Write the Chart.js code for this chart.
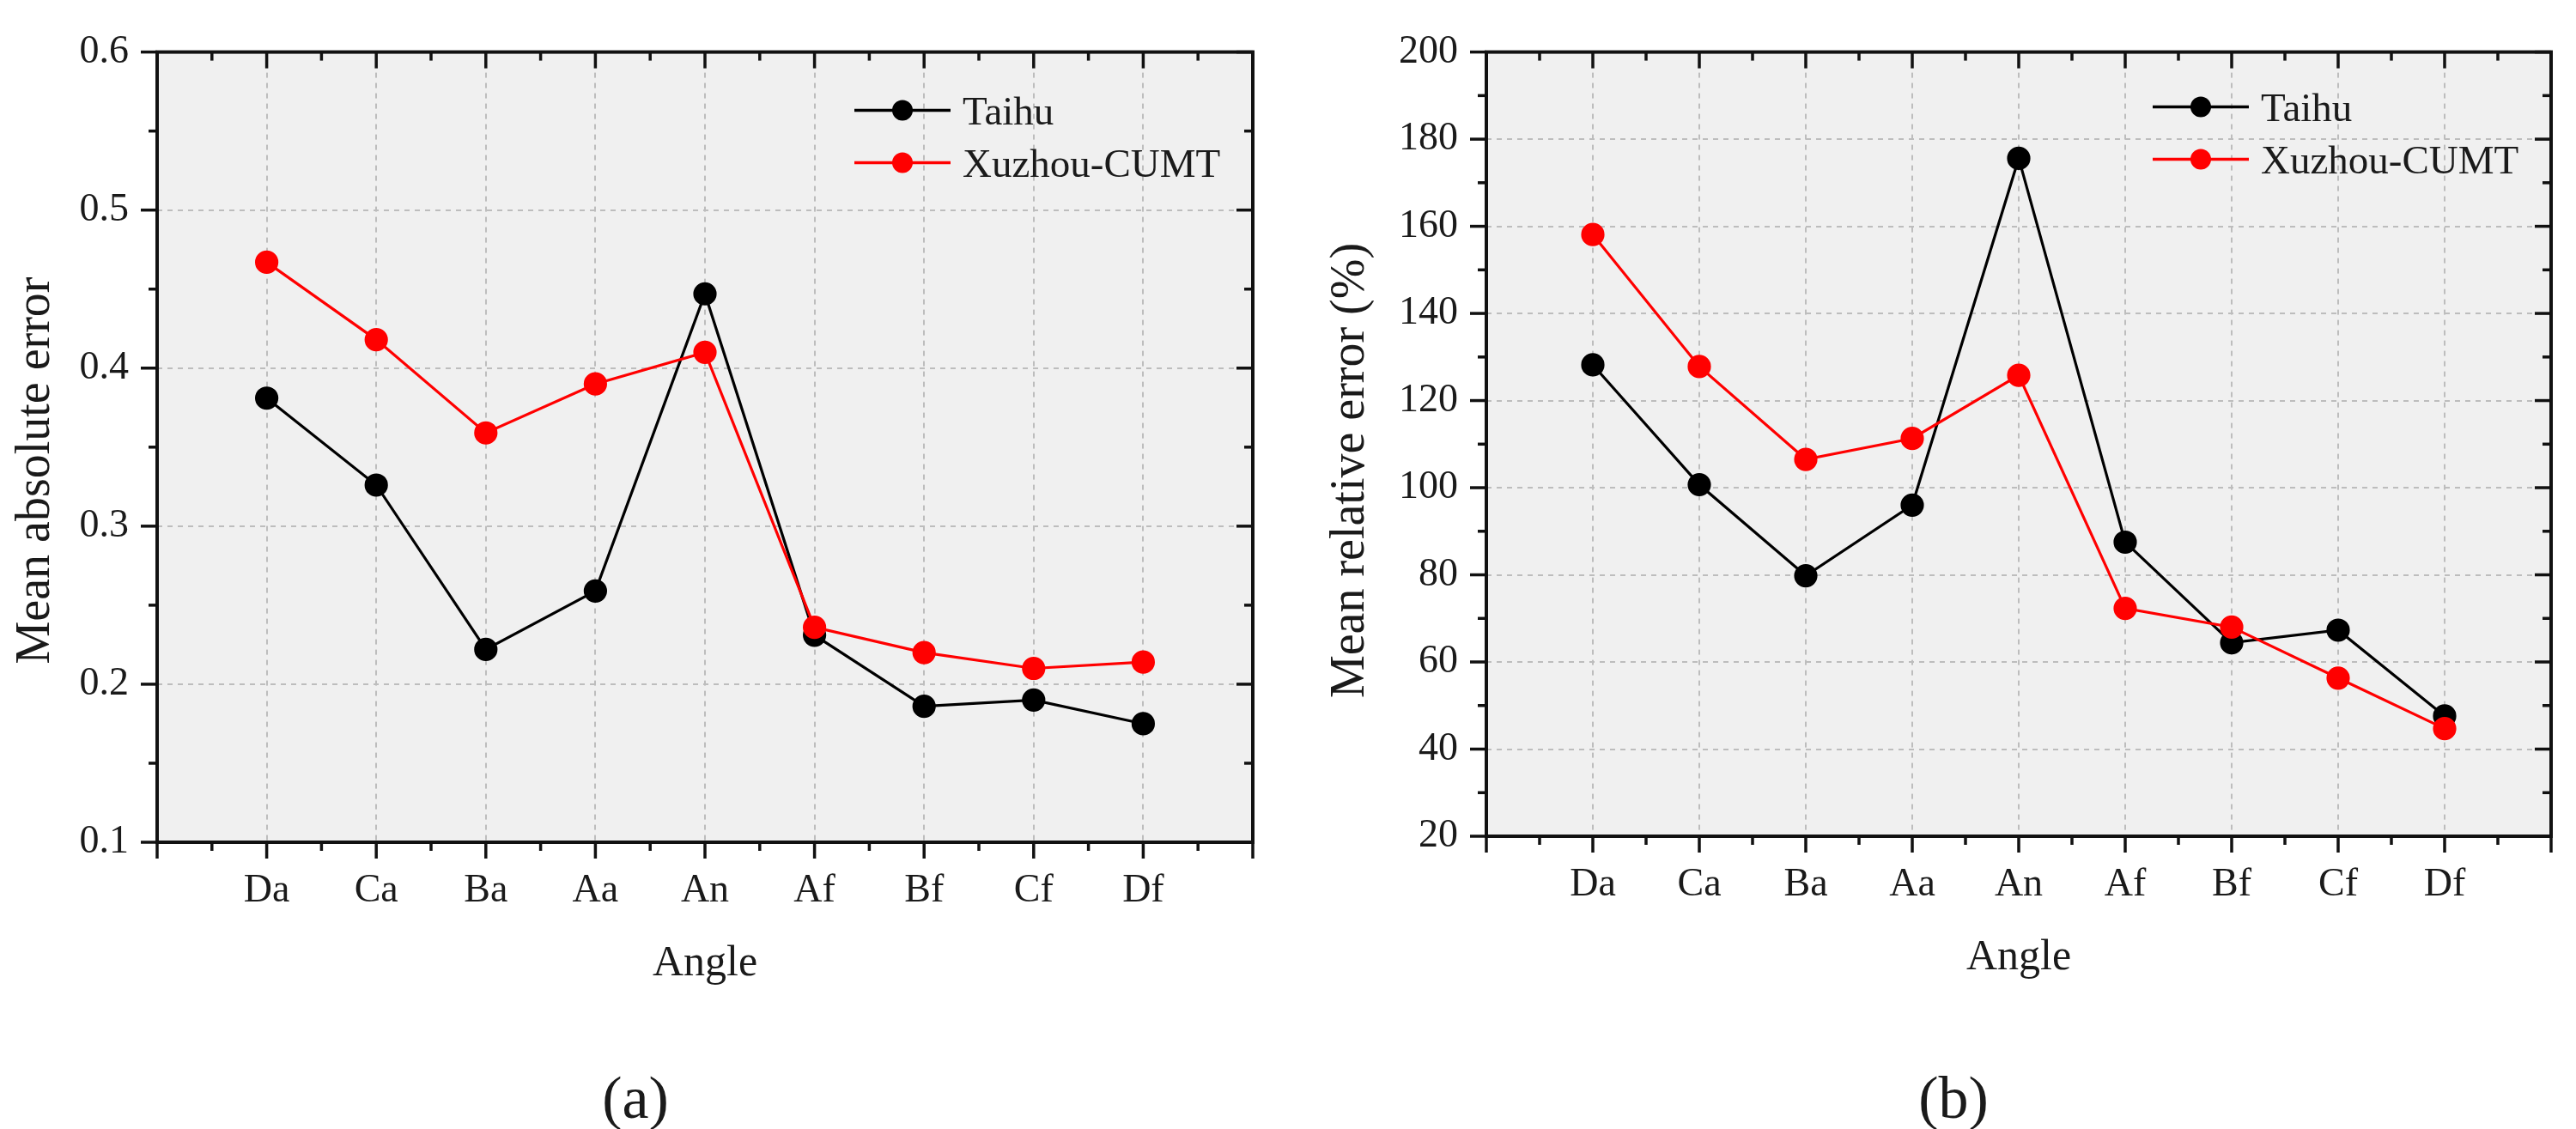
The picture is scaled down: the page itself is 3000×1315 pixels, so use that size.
<!DOCTYPE html>
<html>
<head>
<meta charset="utf-8">
<title>Mean absolute / relative error by angle</title>
<script src="https://cdn.jsdelivr.net/npm/chart.js@4.4.1/dist/chart.umd.min.js"></script>
<style>
  html, body { margin: 0; padding: 0; background: #fff; }
  .page { position: relative; width: 3000px; height: 1315px; overflow: hidden; }
  .panel { position: absolute; top: 0; width: 1500px; height: 1315px; }
  #panelA { left: 0; }
  #panelB { left: 1500px; }
</style>
</head>
<body>
<div class="page">
  <div class="panel" id="panelA"><canvas id="maeChart" width="1500" height="1315"></canvas></div>
  <div class="panel" id="panelB"><canvas id="mreChart" width="1500" height="1315"></canvas></div>
</div>
<script>
// Data
const angleLabels = ['Da', 'Ca', 'Ba', 'Aa', 'An', 'Af', 'Bf', 'Cf', 'Df'];
const seriesNames = ['Taihu', 'Xuzhou-CUMT'];

// (a) Mean absolute error
const maeTaihu = [0.381, 0.326, 0.222, 0.259, 0.447, 0.231, 0.186, 0.190, 0.175];
const maeXuzhou = [0.467, 0.418, 0.359, 0.390, 0.410, 0.236, 0.220, 0.210, 0.214];
const maeTicks = [0.1, 0.2, 0.3, 0.4, 0.5, 0.6];

// (b) Mean relative error (%)
const mreTaihu = [128.2, 100.7, 79.8, 96.0, 175.6, 87.5, 64.4, 67.3, 47.6];
const mreXuzhou = [158.1, 127.8, 106.5, 111.3, 125.8, 72.3, 68.0, 56.3, 44.7];
const mreTicks = [20, 40, 60, 80, 100, 120, 140, 160, 180, 200];

const FONT = "'Liberation Serif', 'Times New Roman', serif";
const TEXT = '#1a1a1a';
const GRID = '#bdbdbd';

// Plot background, Origin-style frame with mirrored ticks, titles and legend
const originFrame = {
  id: 'originFrame',
  beforeDraw(chart) {
    const { ctx, chartArea: a } = chart;
    ctx.save();
    ctx.fillStyle = '#f0f0f0';
    ctx.fillRect(a.left, a.top, a.right - a.left, a.bottom - a.top);
    ctx.restore();
  },
  afterDraw(chart, args, opts) {
    const { ctx, chartArea: a } = chart;
    const xs = chart.scales.x;
    const ys = chart.scales.y;

    const seg = (x1, y1, x2, y2) => {
      ctx.beginPath();
      ctx.moveTo(x1, y1);
      ctx.lineTo(x2, y2);
      ctx.stroke();
    };

    ctx.save();
    ctx.strokeStyle = '#111';
    ctx.lineWidth = 4;
    ctx.strokeRect(a.left, a.top, a.right - a.left, a.bottom - a.top);

    // x ticks: out at bottom, in at top
    ctx.lineWidth = 3.5;
    for (let i = 0; i <= (xs.max - xs.min) * 2; i++) {
      const px = xs.getPixelForValue(xs.min + i * 0.5);
      const len = i % 2 === 0 ? 19 : 10;
      seg(px, a.bottom, px, a.bottom + len);
      seg(px, a.top, px, a.top + len);
    }
    // y ticks: out at left, in at right
    const half = opts.yStep / 2;
    for (let i = 0; i <= Math.round((ys.max - ys.min) / half); i++) {
      const py = ys.getPixelForValue(ys.min + i * half);
      const len = i % 2 === 0 ? 19 : 10;
      seg(a.left - len, py, a.left, py);
      seg(a.right - len, py, a.right, py);
    }

    // axis titles
    ctx.fillStyle = TEXT;
    ctx.textAlign = 'center';
    ctx.textBaseline = 'alphabetic';
    ctx.font = '50px ' + FONT;
    ctx.fillText(opts.xTitle, (a.left + a.right) / 2, a.bottom + 155);

    ctx.save();
    ctx.translate(opts.yTitleX, opts.yTitleY);
    ctx.rotate(-Math.PI / 2);
    ctx.font = '56px ' + FONT;
    ctx.fillText(opts.yTitle, 0, 0);
    ctx.restore();

    // panel label
    ctx.font = '70px ' + FONT;
    ctx.fillText(opts.panel, opts.panelX, 1302);

    // legend
    ctx.font = '47px ' + FONT;
    ctx.textAlign = 'left';
    chart.data.datasets.forEach((ds, i) => {
      const cy = a.top + opts.legendTop + i * 61;
      const x0 = a.right - 464;
      ctx.strokeStyle = ds.borderColor;
      ctx.lineWidth = 3.5;
      seg(x0, cy, x0 + 112, cy);
      ctx.fillStyle = ds.pointBackgroundColor;
      ctx.beginPath();
      ctx.arc(x0 + 56, cy, 12, 0, Math.PI * 2);
      ctx.fill();
      ctx.fillStyle = TEXT;
      ctx.fillText(ds.label, a.right - 338, cy + 16);
    });
    ctx.restore();
  }
};

function lineSet(label, values, color, order) {
  return {
    label: label,
    data: values.map((v, i) => ({ x: i + 1, y: v })),
    borderColor: color,
    backgroundColor: color,
    pointBackgroundColor: color,
    pointBorderColor: color,
    borderWidth: 3.2,
    pointRadius: 12,
    pointHoverRadius: 12,
    tension: 0,
    order: order
  };
}

function makeChart(canvasId, cfg) {
  const ctx = document.getElementById(canvasId).getContext('2d');
  const yMin = cfg.ticks[0];
  const yMax = cfg.ticks[cfg.ticks.length - 1];
  const yStep = cfg.ticks[1] - cfg.ticks[0];

  return new Chart(ctx, {
    type: 'line',
    data: {
      datasets: [
        lineSet(seriesNames[0], cfg.taihu, '#000000', 2),
        lineSet(seriesNames[1], cfg.xuzhou, '#ff0000', 1)
      ]
    },
    plugins: [originFrame],
    options: {
      responsive: false,
      animation: false,
      devicePixelRatio: 1,
      layout: { padding: { top: cfg.top, right: cfg.right, left: 0, bottom: 0 } },
      plugins: {
        legend: { display: false },
        tooltip: { enabled: false },
        originFrame: {
          yStep: yStep,
          xTitle: 'Angle',
          yTitle: cfg.yTitle,
          yTitleX: cfg.yTitleX,
          yTitleY: 548,
          panel: cfg.panel,
          panelX: cfg.panelX,
          legendTop: cfg.legendTop
        }
      },
      scales: {
        x: {
          type: 'linear',
          min: 0,
          max: angleLabels.length + 1,
          afterFit: scale => { scale.height = 1315 - cfg.bottom; },
          ticks: {
            stepSize: 1,
            autoSkip: false,
            maxRotation: 0,
            padding: 29,
            color: TEXT,
            font: { family: FONT, size: 46 },
            callback: v => angleLabels[v - 1] || ''
          },
          grid: { color: GRID, lineWidth: 2, drawTicks: false },
          border: { display: false, dash: [6, 6] }
        },
        y: {
          min: yMin,
          max: yMax,
          afterFit: scale => { scale.width = cfg.left; },
          ticks: {
            stepSize: yStep,
            padding: 33,
            color: TEXT,
            font: { family: FONT, size: 46 },
            callback: v => cfg.fmt(v)
          },
          grid: { color: GRID, lineWidth: 2, drawTicks: false },
          border: { display: false, dash: [6, 6] }
        }
      }
    }
  });
}

document.addEventListener('DOMContentLoaded', () => {
  makeChart('maeChart', {
    taihu: maeTaihu,
    xuzhou: maeXuzhou,
    ticks: maeTicks,
    fmt: v => v.toFixed(1),
    yTitle: 'Mean absolute error',
    yTitleX: 57,
    panel: '(a)',
    panelX: 740,
    legendTop: 68,
    left: 183, right: 41, top: 32, bottom: 981
  });

  makeChart('mreChart', {
    taihu: mreTaihu,
    xuzhou: mreXuzhou,
    ticks: mreTicks,
    fmt: v => String(Math.round(v)),
    yTitle: 'Mean relative error (%)',
    yTitleX: 88,
    panel: '(b)',
    panelX: 775,
    legendTop: 64,
    left: 231, right: 9, top: 34, bottom: 974
  });
});
</script>
</body>
</html>
